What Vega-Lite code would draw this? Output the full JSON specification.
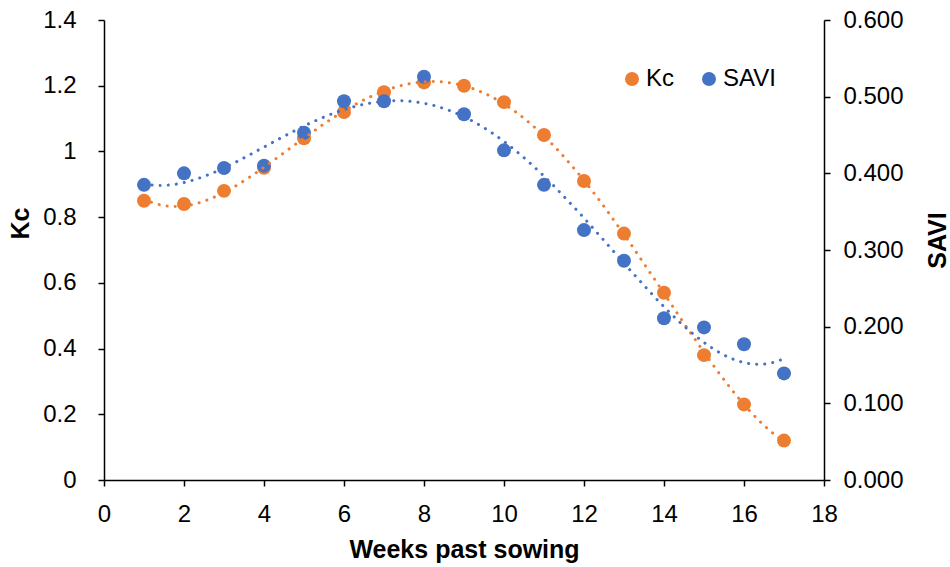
{
  "$schema": "https://vega.github.io/schema/vega-lite/v6.json",
  "width": 720,
  "height": 460,
  "autosize": {"type": "none"},
  "padding": {"left": 104, "top": 20, "right": 126, "bottom": 87},
  "background": "white",
  "config": {
    "font": "Liberation Sans",
    "view": {"stroke": null},
    "axis": {
      "domainColor": "#000000",
      "domainWidth": 1.5,
      "tickColor": "#000000",
      "tickWidth": 1.5,
      "tickSize": 6,
      "labelColor": "#000000",
      "labelFontSize": 24,
      "labelFlush": false,
      "labelOverlap": false,
      "titleColor": "#000000",
      "titleFontSize": 25,
      "titleFontWeight": "bold",
      "grid": false
    }
  },
  "data": {
    "values": [
      {"week": 1, "Kc": 0.85, "SAVI": 0.385},
      {"week": 2, "Kc": 0.84, "SAVI": 0.400},
      {"week": 3, "Kc": 0.88, "SAVI": 0.407},
      {"week": 4, "Kc": 0.95, "SAVI": 0.410},
      {"week": 5, "Kc": 1.04, "SAVI": 0.453},
      {"week": 6, "Kc": 1.12, "SAVI": 0.494},
      {"week": 7, "Kc": 1.18, "SAVI": 0.494},
      {"week": 8, "Kc": 1.21, "SAVI": 0.526},
      {"week": 9, "Kc": 1.20, "SAVI": 0.477},
      {"week": 10, "Kc": 1.15, "SAVI": 0.430},
      {"week": 11, "Kc": 1.05, "SAVI": 0.385},
      {"week": 12, "Kc": 0.91, "SAVI": 0.326},
      {"week": 13, "Kc": 0.75, "SAVI": 0.286},
      {"week": 14, "Kc": 0.57, "SAVI": 0.211},
      {"week": 15, "Kc": 0.38, "SAVI": 0.199},
      {"week": 16, "Kc": 0.23, "SAVI": 0.177},
      {"week": 17, "Kc": 0.12, "SAVI": 0.139}
    ]
  },
  "encoding": {
    "x": {
      "field": "week",
      "type": "quantitative",
      "scale": {"domain": [0, 18], "nice": false},
      "axis": {
        "values": [0, 2, 4, 6, 8, 10, 12, 14, 16, 18],
        "title": "Weeks past sowing",
        "labelPadding": 16,
        "titleX": 360,
        "titleY": 69,
        "titleBaseline": "middle",
        "titleAlign": "center"
      }
    }
  },
  "layer": [
    {
      "mark": {"type": "point", "filled": true, "opacity": 1, "size": 195, "shape": "circle"},
      "encoding": {
        "y": {
          "field": "Kc",
          "type": "quantitative",
          "scale": {"domain": [0, 1.4], "nice": false, "zero": true},
          "axis": {
            "orient": "left",
            "values": [0, 0.2, 0.4, 0.6, 0.8, 1, 1.2, 1.4],
            "format": "~g",
            "title": "Kc",
            "labelPadding": 22,
            "titleAngle": 270,
            "titleX": -84,
            "titleY": 203,
            "titleAlign": "center",
            "titleBaseline": "middle"
          }
        },
        "color": {
          "datum": "Kc",
          "type": "nominal",
          "scale": {"domain": ["Kc", "SAVI"], "range": ["#ED7D31", "#4472C4"]},
          "legend": {
            "title": null,
            "orient": "none",
            "direction": "horizontal",
            "legendX": 516,
            "legendY": 47,
            "symbolType": "circle",
            "symbolSize": 195,
            "symbolStrokeWidth": 0,
            "labelFontSize": 24,
            "labelColor": "#000000",
            "labelOffset": 2,
            "columnPadding": 22
          }
        }
      }
    },
    {
      "mark": {"type": "point", "filled": true, "opacity": 1, "size": 195, "shape": "circle"},
      "encoding": {
        "y": {
          "field": "SAVI",
          "type": "quantitative",
          "scale": {"domain": [0, 0.6], "nice": false, "zero": true},
          "axis": {
            "orient": "right",
            "values": [0, 0.1, 0.2, 0.3, 0.4, 0.5, 0.6],
            "format": ".3f",
            "title": "SAVI",
            "labelPadding": 13,
            "titleAngle": 270,
            "titleX": 113,
            "titleY": 220,
            "titleAlign": "center",
            "titleBaseline": "middle"
          }
        },
        "color": {"datum": "SAVI", "type": "nominal"}
      }
    },
    {
      "transform": [
        {"regression": "Kc", "on": "week", "method": "poly", "order": 4, "extent": [1, 17]}
      ],
      "mark": {"type": "line", "color": "#ED7D31", "strokeWidth": 3, "strokeCap": "round", "strokeDash": [0.1, 8]},
      "encoding": {
        "y": {
          "field": "Kc",
          "type": "quantitative",
          "scale": {"domain": [0, 1.4], "nice": false, "zero": true},
          "axis": null
        }
      }
    },
    {
      "transform": [
        {"regression": "SAVI", "on": "week", "method": "poly", "order": 4, "extent": [1, 17]}
      ],
      "mark": {"type": "line", "color": "#4472C4", "strokeWidth": 3, "strokeCap": "round", "strokeDash": [0.1, 8]},
      "encoding": {
        "y": {
          "field": "SAVI",
          "type": "quantitative",
          "scale": {"domain": [0, 0.6], "nice": false, "zero": true},
          "axis": null
        }
      }
    }
  ],
  "resolve": {"scale": {"y": "independent"}}
}
